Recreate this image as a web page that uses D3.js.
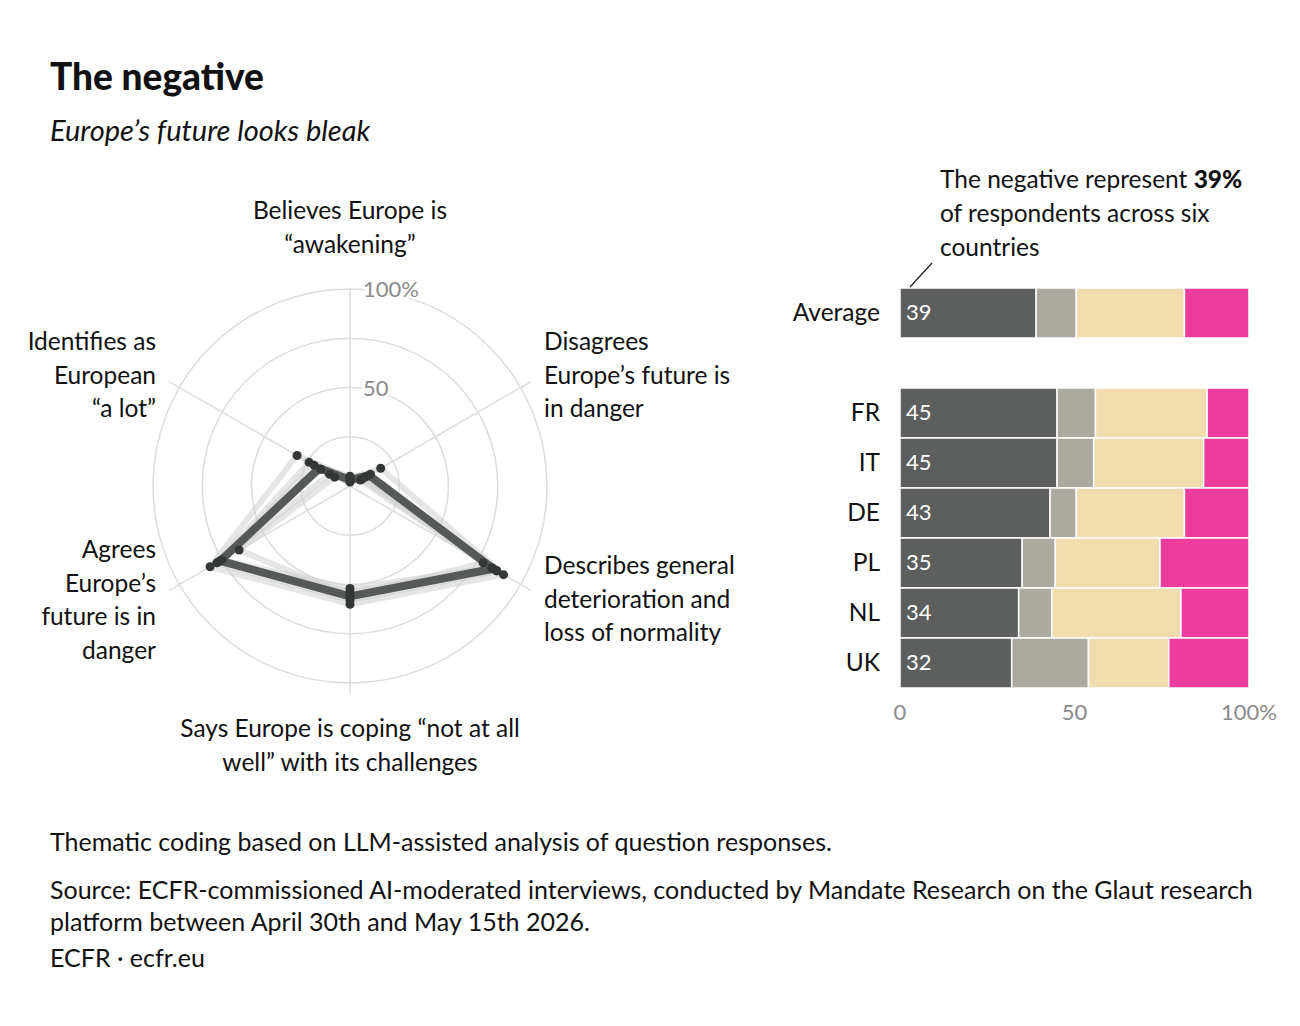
<!DOCTYPE html>
<html>
<head>
<meta charset="utf-8">
<script src="https://cdn.jsdelivr.net/npm/d3@7"></script>
<style>
  body { margin: 0; background: #fff; }
  svg text { font-family: Lato, "Noto Sans", sans-serif; fill: #111; }
</style>
</head>
<body>
<svg id="chart" width="1300" height="1026"></svg>
<script>
// radar axes, clockwise from the top
var axes = [
  ["Believes Europe is", "\u201cawakening\u201d"],
  ["Disagrees", "Europe\u2019s future is", "in danger"],
  ["Describes general", "deterioration and", "loss of normality"],
  ["Says Europe is coping \u201cnot at all", "well\u201d with its challenges"],
  ["Agrees", "Europe\u2019s", "future is in", "danger"],
  ["Identifies as", "European", "\u201ca lot\u201d"]
];

// share of the negative per axis (%)
var radarAverage = [3, 11, 84, 56, 76, 18];
var radarFR = [4, 18, 90, 60, 82, 31];
var radarIT = [3, 12, 86, 58, 78, 24];
var radarDE = [5, 10, 86, 55, 77, 21];
var radarPL = [2, 9, 84, 54, 76, 17];
var radarNL = [3, 7, 83, 52, 75, 12];
var radarUK = [4, 6, 78, 56, 65, 9];
var radarCountries = [radarFR, radarIT, radarDE, radarPL, radarNL, radarUK];
var radarTicks = [25, 50, 75, 100];

// stacked bars: the negative, then three other groups (%)
var barRows = ["Average", "FR", "IT", "DE", "PL", "NL", "UK"];
var negative = [39, 45, 45, 43, 35, 34, 32];
var segGray = [11.5, 11, 10.5, 7.5, 9.5, 9.5, 22];
var segBeige = [31, 32, 31.5, 31, 30, 37, 23];
var segPink = [18.5, 12, 13, 18.5, 25.5, 19.5, 23];
var barTicks = [0, 50, 100];
var segColors = ["#5c5f5d", "#aca9a1", "#f1dcae", "#ec3c9c"];

var svg = d3.select("#chart");

// titles
svg.append("text").attr("x", 50).attr("y", 90)
  .style("font-size", "37px").style("font-weight", 900)
  .text("The negative");
svg.append("text").attr("x", 50).attr("y", 141)
  .style("font-size", "29px").style("font-style", "italic")
  .text("Europe\u2019s future looks bleak");

// ---- radar ----
var cx = 350, cy = 486, R = 197;
var r = d3.scaleLinear().domain([0, 100]).range([0, R]);
var angle = d3.scalePoint().domain(d3.range(axes.length)).range([0, 2 * Math.PI * 5 / 6]);

var radar = svg.append("g").attr("transform", "translate(" + cx + "," + cy + ")");

radar.selectAll("circle.ring")
  .data(radarTicks)
  .enter().append("circle")
  .attr("class", "ring")
  .attr("r", function(d) { return r(d); })
  .attr("fill", "none")
  .attr("stroke", "#dcdcdc")
  .attr("stroke-width", 1.5);

radar.selectAll("line.spoke")
  .data(d3.range(axes.length))
  .enter().append("line")
  .attr("class", "spoke")
  .attr("x1", 0).attr("y1", 0)
  .attr("x2", function(i) { return r(i == 0 ? 100 : 106) * Math.sin(angle(i)); })
  .attr("y2", function(i) { return -r(i == 0 ? 100 : 106) * Math.cos(angle(i)); })
  .attr("stroke", "#dcdcdc")
  .attr("stroke-width", 1.5);

// tick labels with a white halo over the rings
radar.selectAll("text.tick")
  .data([50, 100])
  .enter().append("text")
  .attr("class", "tick")
  .attr("x", 13)
  .attr("y", function(d) { return -r(d) + 8; })
  .style("font-size", "22px")
  .style("fill", "#8a8a8a")
  .style("stroke", "#fff").style("stroke-width", 6)
  .style("paint-order", "stroke")
  .text(function(d) { return d == 100 ? "100%" : d; });

var line = d3.lineRadial()
  .angle(function(d, i) { return angle(i); })
  .radius(function(d) { return r(d); })
  .curve(d3.curveLinearClosed);

radar.selectAll("path.country")
  .data(radarCountries)
  .enter().append("path")
  .attr("class", "country")
  .attr("d", line)
  .attr("fill", "none")
  .attr("stroke", "#cfd0cf")
  .attr("stroke-opacity", 0.55)
  .attr("stroke-width", 6)
  .attr("stroke-linejoin", "round");

radar.append("path")
  .datum(radarAverage)
  .attr("d", line)
  .attr("fill", "none")
  .attr("stroke", "#555957")
  .attr("stroke-width", 8)
  .attr("stroke-linejoin", "round");

var dots = [];
radarCountries.forEach(function(c) {
  c.forEach(function(v, i) { dots.push({ i: i, v: v }); });
});
radar.selectAll("circle.dot")
  .data(dots)
  .enter().append("circle")
  .attr("class", "dot")
  .attr("cx", function(d) { return r(d.v) * Math.sin(angle(d.i)); })
  .attr("cy", function(d) { return -r(d.v) * Math.cos(angle(d.i)); })
  .attr("r", 4.5)
  .attr("fill", "#333735");

// axis labels
var labelPos = [
  { x: 350, y: 219, anchor: "middle" },
  { x: 544, y: 350, anchor: "start" },
  { x: 544, y: 574, anchor: "start" },
  { x: 350, y: 737, anchor: "middle" },
  { x: 156, y: 558, anchor: "end" },
  { x: 156, y: 350, anchor: "end" }
];
axes.forEach(function(lines, i) {
  var t = svg.append("text")
    .attr("x", labelPos[i].x).attr("y", labelPos[i].y)
    .attr("text-anchor", labelPos[i].anchor)
    .style("font-size", "24.5px");
  lines.forEach(function(l, k) {
    t.append("tspan").attr("x", labelPos[i].x).attr("dy", k == 0 ? 0 : 33.5).text(l);
  });
});

// ---- stacked bars ----
var x = d3.scaleLinear().domain([0, 100]).range([900, 1249]);
var rowY = function(i) { return i == 0 ? 288 : 388 + (i - 1) * 50; };

var rows = barRows.map(function(name, i) {
  var vals = [negative[i], segGray[i], segBeige[i], segPink[i]];
  var start = 0;
  return { name: name, neg: negative[i], segs: vals.map(function(v, k) {
    var s = { x0: start, x1: start + v, k: k };
    start += v;
    return s;
  }) };
});

var bars = svg.append("g");
var row = bars.selectAll("g.row")
  .data(rows)
  .enter().append("g")
  .attr("class", "row")
  .attr("transform", function(d, i) { return "translate(0," + rowY(i) + ")"; });

row.selectAll("rect")
  .data(function(d) { return d.segs; })
  .enter().append("rect")
  .attr("x", function(d) { return x(d.x0); })
  .attr("width", function(d) { return x(d.x1) - x(d.x0); })
  .attr("y", 0)
  .attr("height", 50)
  .attr("fill", function(d) { return segColors[d.k]; })
  .attr("stroke", "#fff")
  .attr("stroke-width", 1.5);

row.append("text")
  .attr("x", 880).attr("y", 33)
  .attr("text-anchor", "end")
  .style("font-size", "24.5px")
  .text(function(d) { return d.name; });

row.append("text")
  .attr("x", 906).attr("y", 32)
  .style("font-size", "22px")
  .style("fill", "#fff")
  .text(function(d) { return d.neg; });

bars.selectAll("text.xtick")
  .data(barTicks)
  .enter().append("text")
  .attr("class", "xtick")
  .attr("x", function(d) { return x(d); })
  .attr("y", 720)
  .attr("text-anchor", "middle")
  .style("font-size", "22px")
  .style("fill", "#8a8a8a")
  .text(function(d) { return d == 100 ? "100%" : d; });

// annotation
var note = svg.append("text").attr("x", 940).attr("y", 188).style("font-size", "24.5px");
note.append("tspan").text("The negative represent ");
note.append("tspan").style("font-weight", 900).text("39%");
note.append("tspan").attr("x", 940).attr("dy", 34).text("of respondents across six");
note.append("tspan").attr("x", 940).attr("dy", 34).text("countries");
svg.append("line")
  .attr("x1", 910).attr("y1", 287).attr("x2", 932).attr("y2", 263)
  .attr("stroke", "#222").attr("stroke-width", 1.3);

// footer
var foot = [
  { y: 851, t: "Thematic coding based on LLM-assisted analysis of question responses." },
  { y: 899, t: "Source: ECFR-commissioned AI-moderated interviews, conducted by Mandate Research on the Glaut research" },
  { y: 931, t: "platform between April 30th and May 15th 2026." },
  { y: 967, t: "ECFR \u00b7 ecfr.eu" }
];
svg.selectAll("text.foot")
  .data(foot)
  .enter().append("text")
  .attr("class", "foot")
  .attr("x", 50).attr("y", function(d) { return d.y; })
  .style("font-size", "25px")
  .text(function(d) { return d.t; });
</script>
</body>
</html>
